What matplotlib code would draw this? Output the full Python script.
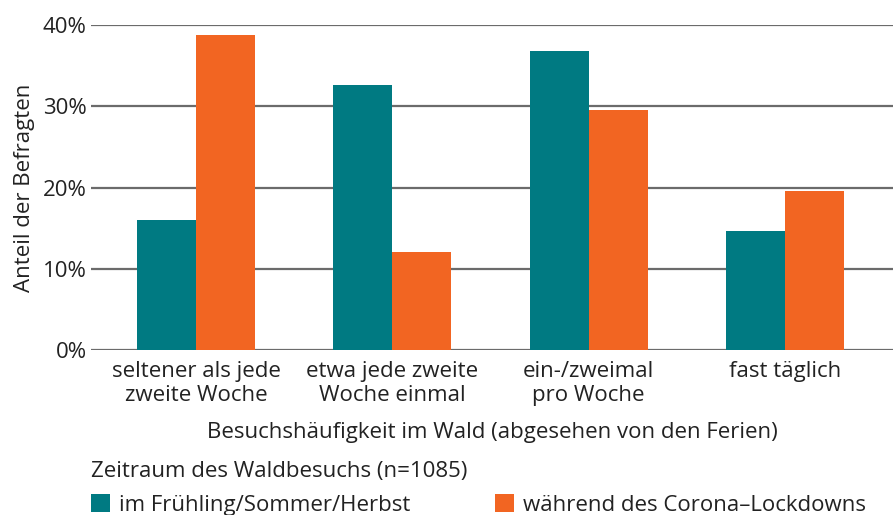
import numpy as np
import matplotlib.pyplot as plt
from matplotlib.ticker import FuncFormatter

plt.rcParams['font.family'] = ['Open Sans', 'DejaVu Sans']

categories = ["seltener als jede\nzweite Woche", "etwa jede zweite\nWoche einmal",
              "ein-/zweimal\npro Woche", "fast täglich"]
before = [16.0, 32.6, 36.8, 14.6]
lockdown = [38.8, 12.1, 29.6, 19.6]
series_names = ["im Frühling/Sommer/Herbst", "während des Corona\u2013Lockdowns"]

teal = '#007A82'
orange = '#F26522'
grid = '#6b6b6b'
txt = '#222222'
fs = 16

fig = plt.figure(figsize=(8.93, 5.15), dpi=100)
ax = fig.add_axes([91/893, 1-350/515, 802/893, 325/515])

x = np.arange(len(categories))
w = 0.30
b1 = ax.bar(x - w/2, before, w, color=teal, zorder=3, label=series_names[0])
b2 = ax.bar(x + w/2, lockdown, w, color=orange, zorder=3, label=series_names[1])

ax.set_ylim(0, 40)
ax.set_xlim(-0.535, 3.55)
ax.set_yticks([0, 10, 20, 30, 40])
ax.yaxis.set_major_formatter(FuncFormatter(lambda v, p: f"{int(v)}%"))
ax.grid(axis='y', color=grid, linewidth=1.6, zorder=0)
ax.set_axisbelow(True)
for s in ax.spines.values():
    s.set_visible(False)
ax.tick_params(axis='y', length=0, pad=3, labelsize=fs, labelcolor=txt)
ax.tick_params(axis='x', length=0, pad=8, labelsize=fs, labelcolor=txt)
ax.set_xticks(x)
ax.set_xticklabels(categories, linespacing=1.2)

ax.set_ylabel("Anteil der Befragten", fontsize=fs, color=txt, labelpad=6)
ax.set_xlabel("Besuchshäufigkeit im Wald (abgesehen von den Ferien)", fontsize=fs,
              color=txt, labelpad=11)

leg = fig.legend(handles=[b1, b2], loc='upper left', bbox_to_anchor=(91/893, 1-461/515),
                 ncol=2, frameon=False, title="Zeitraum des Waldbesuchs (n=1085)",
                 alignment='left', fontsize=fs, title_fontsize=fs,
                 handlelength=0.86, handleheight=0.82, handletextpad=0.4,
                 columnspacing=3.8, borderaxespad=0, borderpad=0, labelspacing=0.55)
for t in leg.get_texts():
    t.set_color(txt)
leg.get_title().set_color(txt)

fig.savefig("out.png", dpi=100)
